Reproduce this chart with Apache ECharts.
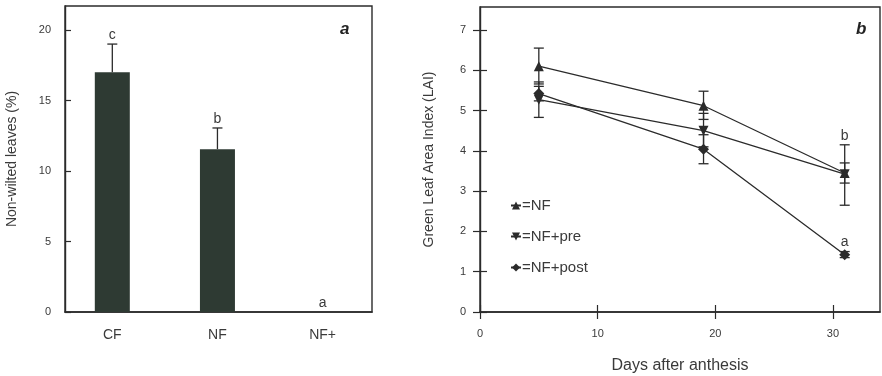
<!DOCTYPE html>
<html><head><meta charset="utf-8">
<script src="https://cdn.jsdelivr.net/npm/echarts@6/dist/echarts.min.js"></script>
<style>html,body{margin:0;padding:0;background:#fff}#c{width:882px;height:376px}</style>
</head><body><div id="c"></div>
<script>
// Panel a data
const treatments = ['CF', 'NF', 'NF+'];
const nonWilted = [17.0, 11.55, 0];
const nonWiltedErrTop = [19.0, 13.05, 0];
const nonWiltedLetters = ['c', 'b', 'a'];

// Panel b data
const days = [5, 19, 31];
const laiNF = [6.1, 5.12, 3.45];
const laiNFLow = [5.66, 4.78, 2.65];
const laiNFHigh = [6.55, 5.48, 4.15];
const laiNFLetters = ['', '', 'b'];
const laiPre = [5.27, 4.5, 3.42];
const laiPreLow = [4.83, 4.1, 3.2];
const laiPreHigh = [5.71, 4.93, 3.7];
const laiPreLetters = ['', '', ''];
const laiPost = [5.42, 4.04, 1.42];
const laiPostLow = [5.24, 3.68, 1.35];
const laiPostHigh = [5.6, 4.4, 1.5];
const laiPostLetters = ['', '', 'a'];

const xTicksA = [0, 1, 2];
const xTicksB = [0, 10, 20, 30];
const yTicksA = [0, 5, 10, 15, 20];
const yTicksB = [0, 1, 2, 3, 4, 5, 6, 7];

const FONT = 'Arial, "Liberation Sans", sans-serif';
const INK = '#2b2b2b';
const TXT = '#3a3a3a';

function errRenderer(xs, lo, hi, letters, capHalf, lowerCap) {
  return function (params, api) {
    const i = params.dataIndex;
    const x = xs[i];
    const p1 = api.coord([x, lo[i]]);
    const p2 = api.coord([x, hi[i]]);
    const children = [];
    const st = { stroke: INK, lineWidth: 1.3 };
    if (hi[i] !== lo[i]) {
      children.push({ type: 'line', shape: { x1: p1[0], y1: p1[1], x2: p2[0], y2: p2[1] }, style: st });
      children.push({ type: 'line', shape: { x1: p2[0] - capHalf, y1: p2[1], x2: p2[0] + capHalf, y2: p2[1] }, style: st });
      if (lowerCap) {
        children.push({ type: 'line', shape: { x1: p1[0] - capHalf, y1: p1[1], x2: p1[0] + capHalf, y2: p1[1] }, style: st });
      }
    }
    if (letters && letters[i]) {
      children.push({ type: 'text', style: { text: letters[i], x: p2[0], y: p2[1] - 9, align: 'center', verticalAlign: 'middle', fill: TXT, font: '14px ' + FONT } });
    }
    return { type: 'group', children: children };
  };
}

const chart = echarts.init(document.getElementById('c'));

function lineSeries(name, vals, symbol, rotate) {
  return {
    name: name, type: 'line', xAxisIndex: 1, yAxisIndex: 1,
    data: days.map((d, i) => [d, vals[i]]),
    symbol: symbol, symbolSize: symbol === 'diamond' ? 11 : 10, symbolRotate: rotate,
    lineStyle: { color: INK, width: 1.3 }, itemStyle: { color: INK },
    z: 3
  };
}
function errSeries(name, lo, hi, letters) {
  return {
    name: name, type: 'custom', xAxisIndex: 1, yAxisIndex: 1,
    data: days.map((d, i) => [d, lo[i], hi[i]]),
    renderItem: errRenderer(days, lo, hi, letters, 5, true), z: 2
  };
}
const tickStyle = { color: INK, width: 1.2 };

chart.setOption({
  animation: false,
  textStyle: { fontFamily: FONT },
  grid: [
    { left: 65, top: 6, width: 307, height: 306, show: true, borderColor: INK, borderWidth: 1.4, outerBoundsMode: 'none', containLabel: false },
    { left: 480, top: 7, width: 400, height: 305, show: true, borderColor: INK, borderWidth: 1.4, outerBoundsMode: 'none', containLabel: false }
  ],
  xAxis: [
    {
      gridIndex: 0, type: 'value', min: -0.45, max: 2.47,
      axisLine: { show: true, onZero: false, lineStyle: { color: INK, width: 1.6 } },
      axisTick: { show: false }, splitLine: { show: false },
      axisLabel: {
        customValues: xTicksA,
        margin: 16, color: TXT, fontSize: 14, fontFamily: FONT,
        formatter: v => treatments[Math.round(v)]
      }
    },
    {
      gridIndex: 1, type: 'value', min: 0, max: 34,
      axisLine: { show: true, onZero: false, lineStyle: { color: INK, width: 1.6 } },
      axisTick: { show: true, inside: true, length: 7, customValues: xTicksB, lineStyle: tickStyle },
      splitLine: { show: false },
      axisLabel: { customValues: xTicksB, margin: 16, color: TXT, fontSize: 11, fontFamily: FONT },
      name: 'Days after anthesis', nameLocation: 'middle', nameGap: 46,
      nameTextStyle: { color: TXT, fontSize: 16, fontFamily: FONT }
    },
    {
      gridIndex: 1, type: 'value', min: 0, max: 34, position: 'top',
      axisLine: { show: false },
      axisTick: { show: true, inside: true, length: 7, customValues: xTicksB, lineStyle: tickStyle },
      axisLabel: { show: false }, splitLine: { show: false }
    }
  ],
  yAxis: [
    {
      gridIndex: 0, type: 'value', min: 0, max: 21.7,
      axisLine: { show: true, onZero: false, lineStyle: { color: INK, width: 1.4 } },
      axisTick: { show: true, inside: true, length: 6, customValues: yTicksA, lineStyle: tickStyle },
      splitLine: { show: false },
      axisLabel: { customValues: yTicksA, margin: 14, color: TXT, fontSize: 11, fontFamily: FONT },
      name: 'Non-wilted leaves (%)', nameLocation: 'middle', nameGap: 46,
      nameTextStyle: { color: TXT, fontSize: 14, fontFamily: FONT }
    },
    {
      gridIndex: 1, type: 'value', min: 0, max: 7.57,
      axisLine: { show: true, onZero: false, lineStyle: { color: INK, width: 1.4 } },
      axisTick: { show: true, inside: true, length: 7, customValues: yTicksB, lineStyle: tickStyle },
      splitLine: { show: false },
      axisLabel: { customValues: yTicksB, margin: 14, color: TXT, fontSize: 11, fontFamily: FONT },
      name: 'Green Leaf Area Index (LAI)', nameLocation: 'middle', nameGap: 44,
      nameTextStyle: { color: TXT, fontSize: 14, fontFamily: FONT }
    },
    {
      gridIndex: 1, type: 'value', min: 0, max: 7.57, position: 'right',
      axisLine: { show: false },
      axisTick: { show: true, inside: true, length: 7, customValues: yTicksB, lineStyle: tickStyle },
      axisLabel: { show: false }, splitLine: { show: false }
    }
  ],
  legend: {
    left: 505, top: 193, orient: 'vertical', itemGap: 16, itemWidth: 10, itemHeight: 10,
    data: ['NF', 'NF+pre', 'NF+post'],
    formatter: n => '=' + n,
    textStyle: { color: TXT, fontSize: 15, fontFamily: FONT, padding: [0, 0, 0, -4] },
    selectedMode: false
  },
  graphic: [
    { type: 'text', left: 340, top: 21, style: { text: 'a', font: 'italic bold 17px ' + FONT, fill: '#222' } },
    { type: 'text', left: 856, top: 21, style: { text: 'b', font: 'italic bold 17px ' + FONT, fill: '#222' } }
  ],
  series: [
    {
      name: 'bars', type: 'bar', xAxisIndex: 0, yAxisIndex: 0,
      data: treatments.map((t, i) => [i, nonWilted[i]]),
      barWidth: 35, itemStyle: { color: '#2e3a33' }
    },
    {
      name: 'barErr', type: 'custom', xAxisIndex: 0, yAxisIndex: 0,
      data: treatments.map((t, i) => [i, nonWilted[i], nonWiltedErrTop[i]]),
      renderItem: errRenderer([0, 1, 2], nonWilted, nonWiltedErrTop, nonWiltedLetters, 5, false), z: 3
    },
    errSeries('errNF', laiNFLow, laiNFHigh, laiNFLetters),
    errSeries('errPre', laiPreLow, laiPreHigh, laiPreLetters),
    errSeries('errPost', laiPostLow, laiPostHigh, laiPostLetters),
    lineSeries('NF', laiNF, 'triangle', 0),
    lineSeries('NF+pre', laiPre, 'triangle', 180),
    lineSeries('NF+post', laiPost, 'diamond', 0)
  ]
});
</script></body></html>
